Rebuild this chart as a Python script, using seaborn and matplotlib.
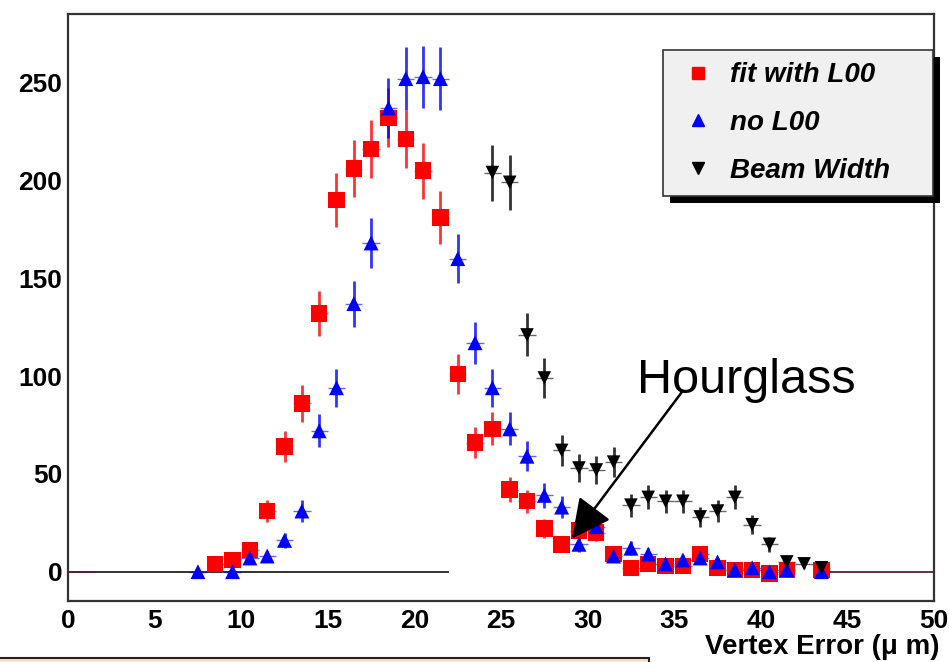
import pandas as pd
import matplotlib
matplotlib.use('Agg')
import matplotlib.pyplot as plt
from matplotlib.lines import Line2D
from matplotlib.patches import Rectangle
from matplotlib.transforms import IdentityTransform
import seaborn as sns

# Counts per 1 um bin (bin centres)
fit_x = [8.5, 9.5, 10.5, 11.5, 12.5, 13.5, 14.5, 15.5, 16.5, 17.5, 18.5, 19.5,
         20.5, 21.5, 22.5, 23.5, 24.5, 25.5, 26.5, 27.5, 28.5, 29.5, 30.5, 31.5,
         32.5, 33.5, 34.5, 35.5, 36.5, 37.5, 38.5, 39.5, 40.5, 41.5, 43.5]
fit_y = [4, 6, 11, 31, 64, 86, 132, 190, 206, 216, 232, 221,
         205, 181, 101, 66, 73, 42, 36, 22, 14, 21, 20, 9,
         2, 4, 3, 3, 9, 2, 1, 1, -1, 1, 1]
fit_err = [2, 2.5, 3.3, 5.6, 8, 9.3, 11.5, 13.8, 14.4, 14.7, 15.2, 14.9,
           14.3, 13.5, 10, 8.1, 8.5, 6.5, 6, 4.7, 3.7, 4.6, 4.5, 3,
           1.4, 2, 1.7, 1.7, 3, 1.4, 1, 1, 1, 1, 1]

nol00_x = [7.5, 9.5, 10.5, 11.5, 12.5, 13.5, 14.5, 15.5, 16.5, 17.5, 18.5, 19.5,
           20.5, 21.5, 22.5, 23.5, 24.5, 25.5, 26.5, 27.5, 28.5, 29.5, 30.5, 31.5,
           32.5, 33.5, 34.5, 35.5, 36.5, 37.5, 38.5, 39.5, 40.5, 41.5, 43.5]
nol00_y = [0, 0, 7, 8, 16, 31, 72, 94, 137, 168, 237, 252,
           253, 252, 160, 117, 94, 73, 59, 39, 33, 14, 23, 8,
           12, 9, 4, 6, 7, 5, 1, 2, 0, 1, 0]
nol00_err = [1, 1, 2.6, 2.8, 4, 5.6, 8.5, 9.7, 11.7, 13, 15.4, 15.9,
             15.9, 15.9, 12.6, 10.8, 9.7, 8.5, 7.7, 6.2, 5.7, 3.7, 4.8, 2.8,
             3.5, 3, 2, 2.4, 2.6, 2.2, 1, 1.4, 1, 1, 1]

beam_x = [24.5, 25.5, 26.5, 27.5, 28.5, 29.5, 30.5, 31.5, 32.5, 33.5,
          34.5, 35.5, 36.5, 37.5, 38.5, 39.5, 40.5, 41.5, 42.5, 43.5]
beam_y = [204, 199, 121, 99, 62, 53, 52, 56, 34, 38,
          36, 36, 28, 31, 38, 24, 14, 5, 4, 2]
beam_err = [14.3, 14.1, 11, 10, 7.9, 7.3, 7.2, 7.5, 5.8, 6.2,
            6, 6, 5.3, 5.6, 6.2, 4.9, 3.7, 2.2, 2, 1.4]

labels = ['fit with L00', 'no L00', 'Beam Width']
colors = {'fit with L00': '#ff0000', 'no L00': '#0000ff', 'Beam Width': '#000000'}
markers = {'fit with L00': 's', 'no L00': '^', 'Beam Width': 'v'}
sizes = {'fit with L00': 140, 'no L00': 115, 'Beam Width': 95}

data = pd.concat([
    pd.DataFrame({'x': fit_x, 'y': fit_y, 'err': fit_err, 'set': labels[0]}),
    pd.DataFrame({'x': nol00_x, 'y': nol00_y, 'err': nol00_err, 'set': labels[1]}),
    pd.DataFrame({'x': beam_x, 'y': beam_y, 'err': beam_err, 'set': labels[2]}),
], ignore_index=True)

sns.set_theme(style='white')
plt.rcParams['font.family'] = ['Liberation Sans', 'DejaVu Sans']
plt.rcParams['text.color'] = 'black'

fig = plt.figure(figsize=(9.49, 6.62), dpi=100)
ax = fig.add_axes([0.0717, 0.0921, 0.9125, 0.8867])

# zero lines of the underlying histograms
ax.hlines(0, 0, 22, color='#222222', lw=1.3, zorder=1)
ax.hlines(0, 0, 1.5, color='#5c1f33', lw=1.3, zorder=1)
ax.hlines(0, 43.8, 50, color='#5c1f33', lw=1.3, zorder=1)

# error bars
for name in labels:
    d = data[data['set'] == name]
    ax.errorbar(d['x'], d['y'], yerr=d['err'], fmt='none', ecolor=colors[name],
                elinewidth=2.0, alpha=0.8, zorder=2)
    ax.errorbar(d['x'], d['y'], xerr=0.5, fmt='none', ecolor=colors[name],
                elinewidth=1.0, ls=':', alpha=0.6, zorder=2)

# markers
for name in labels:
    d = data[data['set'] == name]
    sns.scatterplot(data=d, x='x', y='y', marker=markers[name], color=colors[name],
                    s=sizes[name], edgecolor='none', legend=False, ax=ax, zorder=3)

ax.set_xlim(0, 50)
ax.set_ylim(-15, 285)
ax.set_xticks(range(0, 51, 5))
ax.set_xticks(range(0, 51, 1), minor=True)
ax.set_yticks(range(0, 251, 50))
ax.set_yticks(range(-10, 285, 10), minor=True)
ax.tick_params(axis='x', which='major', direction='in', length=12, width=1.3,
               color='#333333', labelsize=19, labelcolor='black', pad=6)
ax.tick_params(axis='x', which='minor', direction='in', length=6, width=1.2,
               color='#333333')
ax.tick_params(axis='y', which='major', direction='in', length=18, width=1.3,
               color='#333333', labelsize=19, labelcolor='black', pad=4)
ax.tick_params(axis='y', which='minor', direction='in', length=9, width=1.2,
               color='#333333')
for lab in ax.get_xticklabels() + ax.get_yticklabels():
    lab.set_fontweight('bold')
for s in ax.spines.values():
    s.set_color('#333333')
    s.set_linewidth(1.6)
ax.set_xlabel('')
ax.set_ylabel('')

fig.text(0.99, 0.012, 'Vertex Error (μ m)', ha='right', va='baseline',
         fontsize=20, fontweight='bold', color='black')

# legend (fixed width box) with a hard drop shadow
handles = [Line2D([], [], ls='none', marker=markers[n], color=colors[n],
                  markersize=9 if n != 'Beam Width' else 8) for n in labels]
leg = ax.legend(handles, labels, loc='upper left',
                bbox_to_anchor=(0.687, 0.4, 0.3118, 0.539), mode='expand',
                borderaxespad=0, frameon=True, fancybox=False, framealpha=1,
                facecolor='#f0f0f0', edgecolor='#333333', borderpad=0.45,
                labelspacing=0.78, handletextpad=0.36, handlelength=1.6,
                labelcolor='black',
                prop={'size': 20, 'weight': 'bold', 'style': 'italic'})
leg.get_frame().set_linewidth(1.2)
fig.canvas.draw()
bb = leg.get_window_extent()
ax.add_patch(Rectangle((bb.x0 + 7, bb.y0 - 7), bb.width, bb.height,
                       transform=IdentityTransform(), facecolor='black',
                       edgecolor='none', zorder=4.9, clip_on=False))

# hourglass annotation
ax.text(32.85, 91.5, 'Hourglass', fontsize=35, ha='left', va='baseline', color='black')
ax.annotate('', xy=(29.1, 16.9), xytext=(35.5, 92.5),
            arrowprops=dict(arrowstyle='-|>,head_length=0.9,head_width=0.45',
                            color='black', lw=1.8, mutation_scale=27,
                            shrinkA=0, shrinkB=0), zorder=4)

# strip of the orange box below the plot
fig.add_artist(Rectangle((-0.01, -0.01), 649 / 949 + 0.01, 4.5 / 662 + 0.01,
                         transform=fig.transFigure, facecolor='#fde3b8',
                         edgecolor='#222222', lw=1.5))

fig.savefig('out.png', dpi=100)
